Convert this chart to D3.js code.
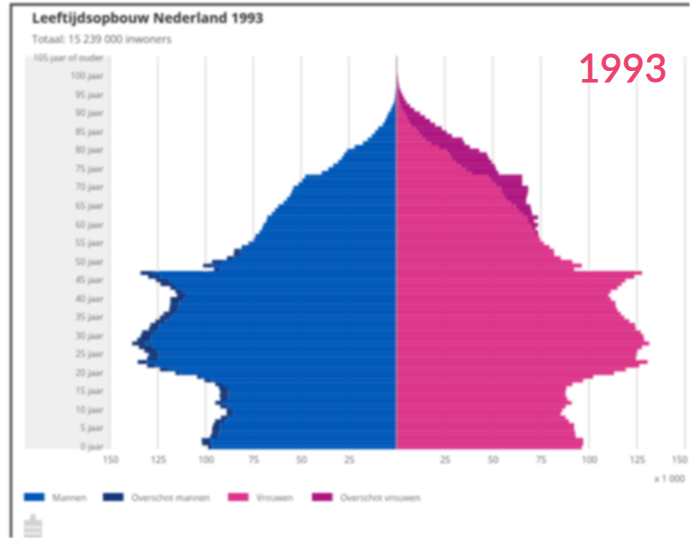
<!DOCTYPE html>
<html><head><meta charset="utf-8">
<script src="https://cdn.jsdelivr.net/npm/d3@7"></script>
<style>
html,body{margin:0;padding:0;background:#fff}
svg{display:block}
text{font-family:"Open Sans","Noto Sans",sans-serif}
</style></head><body>
<div id="chart"></div>
<script>
const title = "Leeftijdsopbouw Nederland 1993";
const subtitle = "Totaal: 15 239 000 inwoners";
const yearLabel = "1993";
const unitLabel = "x 1 000";
const xTicks = [25, 50, 75, 100, 125, 150];
const legendLabels = ["Mannen", "Overschot mannen", "Vrouwen", "Overschot vrouwen"];
const legendColors = ["#0058b8", "#14397a", "#dc3589", "#ad1280"];
// index = age, 0 .. 105 (105 = 105 jaar of ouder)
const men = [98.8,101.8,102,97.5,96.6,96.6,96,95,92,89,89,92.3,94.9,92.3,92.6,92.3,93,94.9,100.6,104.4,
115.8,124,130.6,135.5,130.6,129.8,132,134.9,138.4,135.8,134,133.2,129.6,128.8,126.2,124,122,119,118.7,118.4,
118.4,114.9,115.8,118.4,123.6,126,130,134,95.6,101.3,96.6,88.8,85.3,85,81,77.5,74.9,74,71.8,70.5,
69.7,68.2,67.7,65.3,63.6,61.9,59.2,57.4,55.7,54.8,54,51.4,49.6,47.9,39.2,35.8,33.2,30.6,28.7,27.5,
26,22,17.6,15.2,13,11.3,9.7,7.3,6.1,5.2,4.4,3.1,2.3,1.4,1,.8,.6,.3,.2,.1,.1,.05,0,0,0,0];
const women = [96.3,97.1,97,93.1,92.8,92.3,92.3,89.6,87.9,85.3,86.2,87.9,91,88.8,87.9,87.9,88.3,91.4,97,102.2,
113.1,119.2,126.2,130.5,124.5,124.8,125.3,127.6,131.4,128.8,128.3,127,124.5,124.1,121,118.4,116.6,114.9,114,113.7,
111.4,110.2,111.4,114.9,117,119,123.6,127.6,92.3,96.3,91.4,85.3,82,81.8,79.5,76.6,74.8,74,73.6,72.2,
73.6,71.4,73.6,70.5,70,69.6,67.4,67.4,67.9,68.4,68.4,65.3,65.3,65.3,53,51.7,51,49.6,47.9,47,
43,38,35.3,34.3,28.7,26,23.5,20,17.4,14.8,12.2,9.2,7,5.2,4,3,2.1,1.4,1,.7,.5,.2,.1,.05,0,0];
const ages = d3.range(men.length);

const W = 690, H = 538;
const svg = d3.select("#chart").append("svg").attr("width", W).attr("height", H);
const defs = svg.append("defs");
defs.append("filter").attr("id","soft").attr("filterUnits","userSpaceOnUse")
  .attr("x",0).attr("y",0).attr("width",W).attr("height",H)
  .append("feGaussianBlur").attr("stdDeviation",0.8);
const g = svg.append("g").attr("filter","url(#soft)");

const cx = 396.7;
const xL = d3.scaleLinear().domain([0,150]).range([cx,110]);
const xR = d3.scaleLinear().domain([0,150]).range([cx,685]);
const y = d3.scaleBand().domain(ages).range([449,56]);

// frame
g.append("path").attr("d",`M${W},4.5H11V${H}`).attr("fill","none").attr("stroke","#444").attr("stroke-width",2.4);

// titles
g.append("text").attr("x",32).attr("y",22.5).attr("font-size",14.1).attr("font-weight",700).attr("fill","#2f2f2f").text(title);
g.append("text").attr("x",32).attr("y",42.5).attr("font-size",10.7).attr("fill","#555").text(subtitle);

// label panel
g.append("rect").attr("x",25).attr("y",56).attr("width",85).attr("height",393).attr("fill","#efefef");

// gridlines
const gridLine = (sel,scale) => sel.selectAll(null).data(xTicks).join("line")
  .attr("x1",scale).attr("x2",scale).attr("y1",56).attr("y2",449)
  .attr("stroke","#dcdcdc").attr("stroke-width",1.5);
gridLine(g.append("g"),xL);
gridLine(g.append("g"),xR);

// bars
const bars = g.append("g");
const h = y.bandwidth() + 0.25;
bars.selectAll(".ob-m").data(ages).join("rect")
  .attr("x",a=>xL(men[a])).attr("y",a=>y(a)).attr("height",h)
  .attr("width",a=>Math.max(0,xL(Math.min(men[a],women[a]))-xL(men[a]))).attr("fill",legendColors[1]);
bars.selectAll(".m").data(ages).join("rect")
  .attr("x",a=>xL(Math.min(men[a],women[a]))).attr("y",a=>y(a)).attr("height",h)
  .attr("width",a=>cx-xL(Math.min(men[a],women[a]))).attr("fill",legendColors[0]);
bars.selectAll(".f").data(ages).join("rect")
  .attr("x",cx).attr("y",a=>y(a)).attr("height",h)
  .attr("width",a=>xR(Math.min(men[a],women[a]))-cx).attr("fill",legendColors[2]);
bars.selectAll(".ob-f").data(ages).join("rect")
  .attr("x",a=>xR(Math.min(men[a],women[a]))).attr("y",a=>y(a)).attr("height",h)
  .attr("width",a=>Math.max(0,xR(women[a])-xR(Math.min(men[a],women[a])))).attr("fill",legendColors[3]);

// centre line
g.append("line").attr("x1",cx).attr("x2",cx).attr("y1",56).attr("y2",449).attr("stroke","#8a8a8a").attr("stroke-width",1);

// age axis
const yAxis = d3.axisLeft(y).tickValues(ages.filter(a=>a%5===0))
  .tickSize(0).tickPadding(0)
  .tickFormat(a=>a===105?"105 jaar of ouder":a+" jaar");
const ya = g.append("g").attr("transform","translate(103.5,0)").call(yAxis);
ya.select(".domain").remove();
ya.selectAll("text").attr("font-size",8.8).attr("fill","#555").style("font-family",'"Open Sans",sans-serif');

// x axes
const styleX = sel => {
  sel.select(".domain").remove();
  sel.selectAll("text").attr("font-size",9.2).attr("fill","#555").style("font-family",'"Open Sans",sans-serif');
};
const axL = d3.axisBottom(xL).tickValues(xTicks).tickSize(0).tickPadding(0);
const axR = d3.axisBottom(xR).tickValues(xTicks).tickSize(0).tickPadding(0);
g.append("g").attr("transform","translate(0,456.5)").call(axL).call(styleX);
g.append("g").attr("transform","translate(0,456.5)").call(axR).call(styleX)
  .selectAll(".tick text").filter(d=>d===150).attr("text-anchor","end").attr("x",2);
g.append("text").attr("x",685).attr("y",482).attr("text-anchor","end").attr("font-size",9.2).attr("fill","#555").text(unitLabel);

// legend
const legX = [24,103,228,312];
const leg = g.append("g").selectAll("g").data(legendLabels).join("g")
  .attr("transform",(d,i)=>`translate(${legX[i]},493)`);
leg.append("rect").attr("width",20.5).attr("height",8).attr("fill",(d,i)=>legendColors[i]);
leg.append("text").attr("x",28.5).attr("y",7.5).attr("font-size",8.8).attr("fill","#666").text(d=>d);

// download icon
const ic = g.append("g").attr("fill","#d2d2d2");
ic.append("path").attr("d","M24,520H30V516L33,513L36,516V520H42V538H24Z");
ic.append("g").selectAll("rect").data([526,532]).join("rect")
  .attr("x",25).attr("y",d=>d).attr("width",16).attr("height",2.5).attr("fill","#eeeeee");

// year label, crisp
svg.append("text").attr("x",667).attr("y",82).attr("text-anchor","end")
  .style("font-family","Lato,sans-serif").attr("font-size",38.5)
  .attr("fill","#ee3f6d").attr("stroke","#ee3f6d").attr("stroke-width",0.8).text(yearLabel);
</script>
</body></html>
